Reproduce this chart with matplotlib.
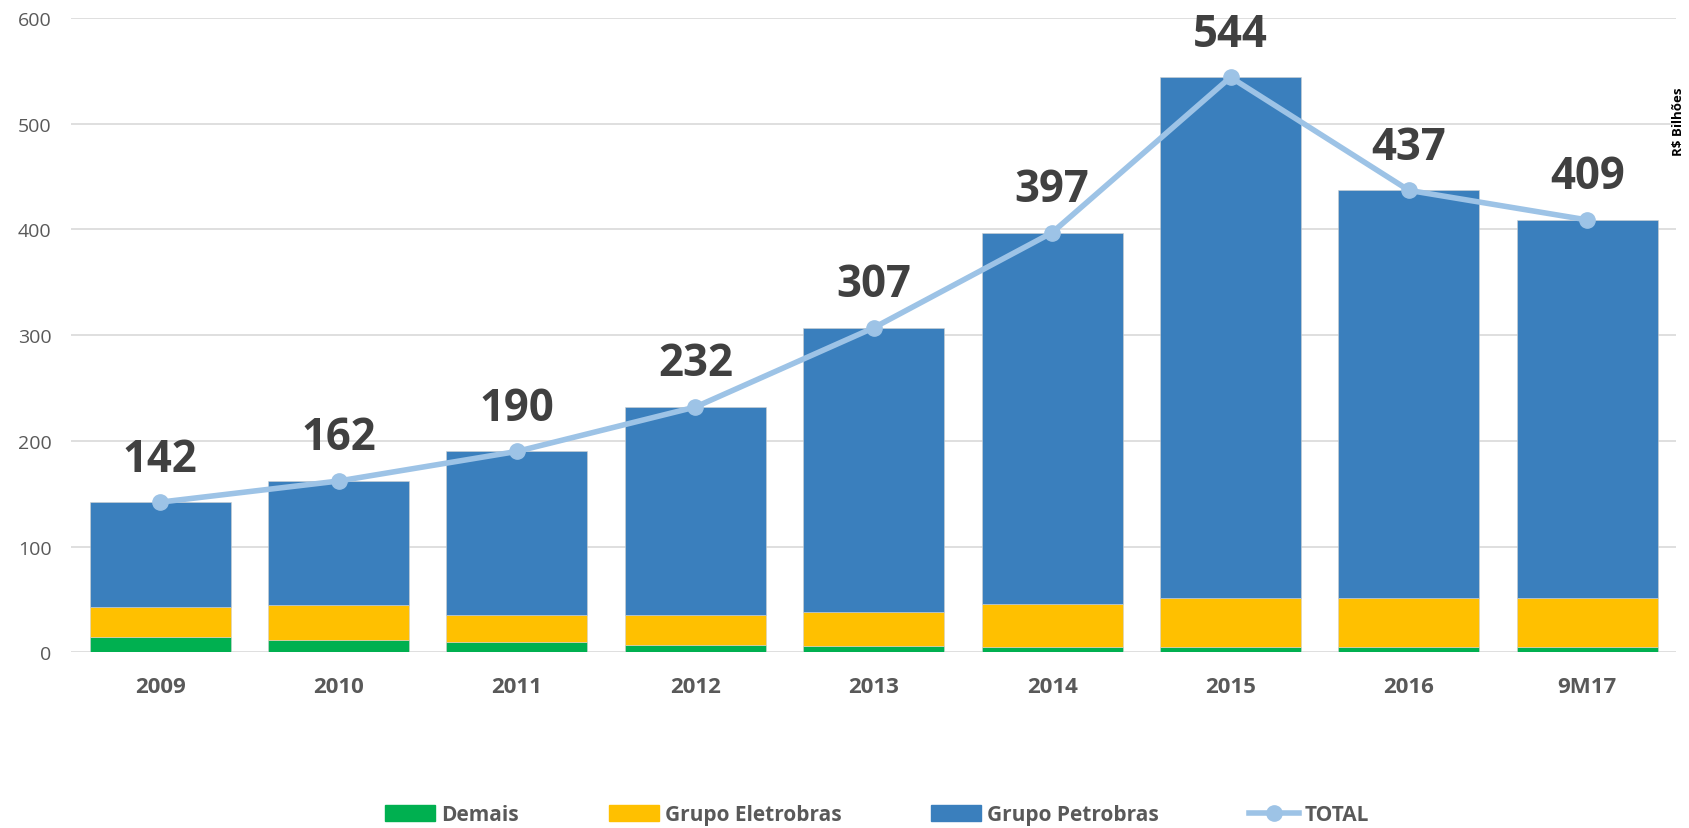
import numpy as np
import matplotlib.pyplot as plt
from matplotlib.patches import Patch
from matplotlib.lines import Line2D

#==================================================

anos = ['2009', '2010', '2011', '2012', '2013', '2014', '2015', '2016', '9M17']
total = [142, 162, 190, 232, 307, 397, 544, 437, 409]
demais = [14, 12, 10, 7, 6, 5, 5, 5, 5]
eletrobras = [29, 33, 25, 28, 32, 41, 46, 46, 46]
petrobras = [t - d - e for t, d, e in zip(total, demais, eletrobras)]

c_demais = '#00B050'
c_eletro = '#FFC000'
c_petro = '#3A7FBD'
c_total = '#9DC3E6'
cinza = '#595959'

plt.rcParams['font.family'] = ['Open Sans', 'DejaVu Sans']

fig = plt.figure(figsize=(16.9, 8.29), dpi=100)
ax = fig.add_axes([0.042, 0.212, 0.95, 0.765])

x = np.arange(len(anos))
w = 0.79

ax.bar(x, demais, w, color=c_demais, edgecolor='#d0d0d0', linewidth=0.4, zorder=2)
ax.bar(x, eletrobras, w, bottom=demais, color=c_eletro, edgecolor='#d0d0d0', linewidth=0.4, zorder=2)
base = np.array(demais) + np.array(eletrobras)
ax.bar(x, petrobras, w, bottom=base, color=c_petro, edgecolor='#d0d0d0', linewidth=0.4, zorder=2)

ax.plot(x, total, color=c_total, lw=4, marker='o', ms=11, zorder=3)

for xi, t in zip(x, total):
	ax.annotate(str(t), (xi, t), xytext=(0, 31), textcoords='offset points',
		ha='center', va='center', fontsize=31.5, fontweight='bold', color='#404040', zorder=4)

ax.set_xlim(-0.5, 8.5)
ax.set_ylim(0, 600)
ax.set_yticks(np.arange(0, 601, 100))
ax.grid(axis='y', color='#D9D9D9', lw=1.2, zorder=0)
ax.set_axisbelow(True)
for s in ax.spines.values():
	s.set_visible(False)
ax.tick_params(axis='both', length=0)
ax.tick_params(axis='y', labelsize=14, labelcolor=cinza, pad=14)
ax.set_xticks(x)
ax.set_xticklabels(anos, fontsize=16, fontweight='bold', color=cinza)
ax.tick_params(axis='x', pad=17)

fig.text(0.993, 0.853, 'R$ Bilhões', rotation=90, ha='center', va='center',
	fontsize=9.5, fontweight='bold', color='black')

handles = [Patch(color=c_demais), Patch(color=c_eletro), Patch(color=c_petro),
	Line2D([0], [0], color=c_total, lw=4, marker='o', ms=11)]
labels = ['Demais', 'Grupo Eletrobras', 'Grupo Petrobras', 'TOTAL']
leg = fig.legend(handles, labels, loc='center', bbox_to_anchor=(0.519, 0.016), ncol=4,
	frameon=False, fontsize=15, columnspacing=4.3, handlelength=2.4, handleheight=0.8,
	handletextpad=0.3)
for t in leg.get_texts():
	t.set_color(cinza)
	t.set_fontweight('bold')

fig.savefig('out.png', dpi=100)
